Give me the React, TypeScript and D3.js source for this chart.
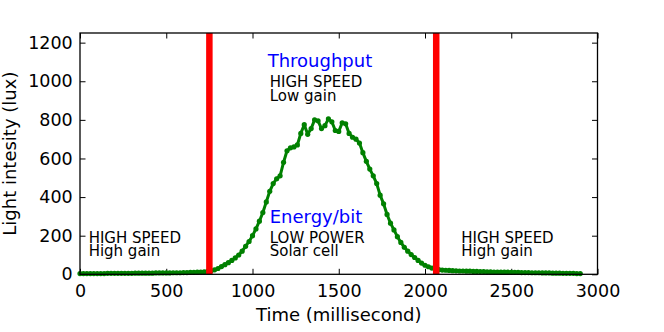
import { useEffect, useRef } from 'react';
import * as d3 from 'd3';

// sampled every 20 ms, starting at 0
const STEP_MS = 20;
const lux = [
  4, 4, 4, 4, 4, 4, 4, 4, 5, 5, 5, 5, 5, 5, 5, 5, 6, 6, 6, 6,
  6, 6, 7, 7, 7, 7, 7, 8, 8, 8, 9, 9, 10, 10, 11, 12, 13, 15, 18, 23,
  30, 40, 50, 60, 72, 85, 100, 120, 145, 170, 200, 235, 275, 320, 375, 430, 470, 495, 510, 580,
  640, 655, 660, 670, 730, 775, 725, 755, 800, 795, 755, 770, 805, 790, 745, 740, 785, 780, 730, 710,
  700, 680, 630, 585, 545, 510, 470, 410, 365, 310, 265, 230, 195, 165, 140, 120, 102, 87, 72, 58,
  47, 39, 32, 27, 24, 22, 21, 20, 19, 18, 17, 17, 16, 16, 15, 15, 14, 14, 13, 13,
  12, 12, 11, 11, 11, 10, 10, 10, 9, 9, 9, 8, 8, 8, 7, 7, 7, 6, 6, 6,
  5, 5, 5, 5, 4, 4,
];

// mode switch instants (ms)
const switches = [750, 2065];

const xTicks = [0, 500, 1000, 1500, 2000, 2500, 3000];
const yTicks = [0, 200, 400, 600, 800, 1000, 1200];

const FONT = 'DejaVu Sans, sans-serif';

const App = () => {
  const svgRef = useRef(null);

  useEffect(() => {
    const svg = d3.select(svgRef.current);
    svg.selectAll('*').remove();

    const x = d3.scaleLinear().domain([0, 3000]).range([80, 597.5]);
    const y = d3.scaleLinear().domain([0, 1250]).range([274.3, 33]);

    const data = lux.map((v, i) => ({ t: i * STEP_MS, v }));

    // axes with inward ticks on all four sides
    const tick = 5.5;
    const styleAxis = (g) => {
      g.select('.domain').remove();
      g.selectAll('line').attr('stroke', '#000').attr('stroke-width', 1);
      g.selectAll('text').attr('font-family', FONT).attr('font-size', 17.5).attr('fill', '#000');
    };

    svg.append('g')
      .attr('transform', `translate(0,${y(0)})`)
      .call(d3.axisBottom(x).tickValues(xTicks).tickSize(-tick).tickPadding(10).tickFormat(d3.format('d')))
      .call(styleAxis);
    svg.append('g')
      .attr('transform', `translate(0,${y(1250)})`)
      .call(d3.axisTop(x).tickValues(xTicks).tickSize(-tick).tickFormat(() => ''))
      .call(styleAxis);
    svg.append('g')
      .attr('transform', `translate(${x(0)},0)`)
      .call(d3.axisLeft(y).tickValues(yTicks).tickSize(-tick).tickPadding(7.3).tickFormat(d3.format('d')))
      .call(styleAxis);
    svg.append('g')
      .attr('transform', `translate(${x(3000)},0)`)
      .call(d3.axisRight(y).tickValues(yTicks).tickSize(-tick).tickFormat(() => ''))
      .call(styleAxis);

    // the curve
    const line = d3.line().x((d) => x(d.t)).y((d) => y(d.v));
    svg.append('path')
      .datum(data)
      .attr('fill', 'none')
      .attr('stroke', '#008000')
      .attr('stroke-width', 3)
      .attr('stroke-linejoin', 'round')
      .attr('d', line);
    svg.append('g')
      .selectAll('circle')
      .data(data)
      .enter()
      .append('circle')
      .attr('cx', (d) => x(d.t))
      .attr('cy', (d) => y(d.v))
      .attr('r', 2.6)
      .attr('fill', '#008000');

    // red switch lines
    svg.append('g')
      .selectAll('line')
      .data(switches)
      .enter()
      .append('line')
      .attr('x1', (d) => x(d))
      .attr('x2', (d) => x(d))
      .attr('y1', y(1250))
      .attr('y2', y(0))
      .attr('stroke', '#ff0000')
      .attr('stroke-width', 6.5);

    // frame
    svg.append('rect')
      .attr('x', x(0))
      .attr('y', y(1250))
      .attr('width', x(3000) - x(0))
      .attr('height', y(0) - y(1250))
      .attr('fill', 'none')
      .attr('stroke', '#000')
      .attr('stroke-width', 1.3);

    // annotations
    const note = (t, v, text, size, color) =>
      svg.append('text')
        .attr('x', x(t))
        .attr('y', y(v))
        .attr('font-family', FONT)
        .attr('font-size', size)
        .attr('fill', color)
        .text(text);

    note(1088, 1075, 'Throughput', 18, '#0000ff');
    note(1100, 969, 'HIGH SPEED', 15, '#000');
    note(1100, 898, 'Low gain', 15, '#000');

    note(1100, 267, 'Energy/bit', 18, '#0000ff');
    note(1100, 162, 'LOW POWER', 15, '#000');
    note(1100, 95, 'Solar cell', 15, '#000');

    note(50, 164, 'HIGH SPEED', 15, '#000');
    note(50, 95, 'High gain', 15, '#000');

    note(2210, 164, 'HIGH SPEED', 15, '#000');
    note(2210, 95, 'High gain', 15, '#000');

    // axis labels
    svg.append('text')
      .attr('x', (x(0) + x(3000)) / 2)
      .attr('y', 321.4)
      .attr('text-anchor', 'middle')
      .attr('font-family', FONT)
      .attr('font-size', 18)
      .text('Time (millisecond)');

    svg.append('text')
      .attr('transform', `translate(15.5,${(y(0) + y(1250)) / 2}) rotate(-90)`)
      .attr('text-anchor', 'middle')
      .attr('font-family', FONT)
      .attr('font-size', 18)
      .text('Light intesity (lux)');
  }, []);

  return (
    <svg
      ref={svgRef}
      width={664}
      height={332}
      style={{ position: 'absolute', left: 0, top: 0, background: '#fff' }}
    />
  );
};

export default App;
